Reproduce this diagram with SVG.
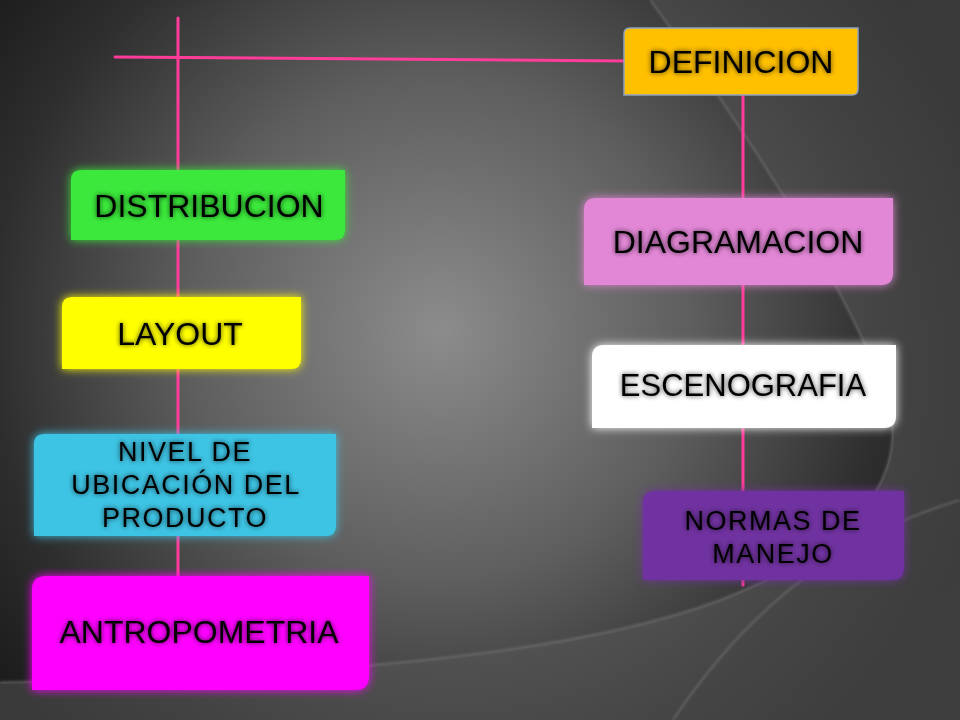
<svg xmlns="http://www.w3.org/2000/svg" width="960" height="720" viewBox="0 0 960 720">
<defs>
  <radialGradient id="bg" cx="440" cy="330" r="560" gradientUnits="userSpaceOnUse">
    <stop offset="0" stop-color="#8c8c8c"/>
    <stop offset="0.45" stop-color="#5e5e5e"/>
    <stop offset="0.8" stop-color="#2e2e2e"/>
    <stop offset="1" stop-color="#1c1c1c"/>
  </radialGradient>
  <linearGradient id="outer" x1="0" y1="0" x2="1" y2="1">
    <stop offset="0" stop-color="#4a4a4a"/>
    <stop offset="1" stop-color="#5a5a5a"/>
  </linearGradient>
  <filter id="glow" x="-20%" y="-30%" width="140%" height="160%">
    <feGaussianBlur in="SourceGraphic" stdDeviation="5" result="b"/>
    <feMerge><feMergeNode in="b"/><feMergeNode in="SourceGraphic"/></feMerge>
  </filter>
  <filter id="halo" x="-10%" y="-30%" width="120%" height="160%">
    <feGaussianBlur in="SourceAlpha" stdDeviation="2.5" result="b"/>
    <feComponentTransfer in="b" result="h"><feFuncA type="linear" slope="0.75"/></feComponentTransfer>
    <feMerge><feMergeNode in="h"/><feMergeNode in="SourceGraphic"/></feMerge>
  </filter>
  <filter id="soft"><feGaussianBlur stdDeviation="1.2"/></filter>
</defs>
<style>
  .lbl{font-family:"Liberation Sans","DejaVu Sans",sans-serif;font-size:32px;fill:#000;text-anchor:middle;filter:url(#halo)}
  .sm{font-size:31px}
  .ml{font-size:27px;letter-spacing:1.5px}
  .link{stroke:#ff3c9a;stroke-width:3;fill:none;stroke-linecap:round}
  .arc{fill:none;stroke:#9a9a9a;stroke-opacity:0.35;stroke-width:2;filter:url(#soft)}
</style>

<g id="background">
  <rect width="960" height="720" fill="url(#bg)"/>
  <path d="M0,682 C300,676 560,660 720,600 C860,545 920,470 880,380 C840,280 760,150 650,0 L960,0 L960,720 L0,720 Z" fill="url(#outer)" fill-opacity="0.55"/>
  <path class="arc" d="M0,682 C300,676 560,660 720,600 C860,545 920,470 880,380 C840,280 760,150 650,0"/>
  <path class="arc" d="M960,500 C860,530 760,590 673,720"/>
</g>

<g id="connectors">
  <line class="link" x1="178" y1="18" x2="178" y2="580"/>
  <line class="link" x1="115" y1="57" x2="626" y2="61"/>
  <line class="link" x1="743" y1="95" x2="743" y2="585"/>
</g>

<g id="definicion">
  <path d="M630,28 H858 V89 Q858,95 852,95 H624 V34 Q624,28 630,28 Z" fill="#ffc000" stroke="#8fa3bf" stroke-width="1.5"/>
  <text class="lbl" x="741" y="73">DEFINICION</text>
</g>

<g id="distribucion">
  <path d="M81,170 H345 V230 Q345,240 335,240 H71 V180 Q71,170 81,170 Z" fill="#3be83b" filter="url(#glow)"/>
  <text class="lbl" x="209" y="217">DISTRIBUCION</text>
</g>

<g id="layout">
  <path d="M72,297 H301 V359 Q301,369 291,369 H62 V307 Q62,297 72,297 Z" fill="#ffff00" filter="url(#glow)"/>
  <text class="lbl" x="180" y="345">LAYOUT</text>
</g>

<g id="nivel">
  <path d="M44,434 H336 V526 Q336,536 326,536 H34 V444 Q34,434 44,434 Z" fill="#3cc3e3" filter="url(#glow)"/>
  <text class="lbl ml" x="185" y="461">NIVEL DE</text>
  <text class="lbl ml" x="186" y="494">UBICACIÓN DEL</text>
  <text class="lbl ml" x="185" y="527">PRODUCTO</text>
</g>

<g id="antropometria">
  <path d="M46,576 H369 V676 Q369,690 355,690 H32 V590 Q32,576 46,576 Z" fill="#ff00ff" filter="url(#glow)"/>
  <text class="lbl" x="199" y="643">ANTROPOMETRIA</text>
</g>

<g id="diagramacion">
  <path d="M596,198 H893 V273 Q893,285 881,285 H584 V210 Q584,198 596,198 Z" fill="#e287d6" filter="url(#glow)"/>
  <text class="lbl" x="738" y="253">DIAGRAMACION</text>
</g>

<g id="escenografia">
  <path d="M604,345 H896 V416 Q896,428 884,428 H592 V357 Q592,345 604,345 Z" fill="#ffffff" filter="url(#glow)"/>
  <text class="lbl sm" x="743" y="396">ESCENOGRAFIA</text>
</g>

<g id="normas">
  <path d="M655,491 H904 V568 Q904,580 892,580 H643 V503 Q643,491 655,491 Z" fill="#7030a0" filter="url(#glow)"/>
  <text class="lbl ml" x="773" y="530">NORMAS DE</text>
  <text class="lbl ml" x="773" y="563">MANEJO</text>
</g>
</svg>
